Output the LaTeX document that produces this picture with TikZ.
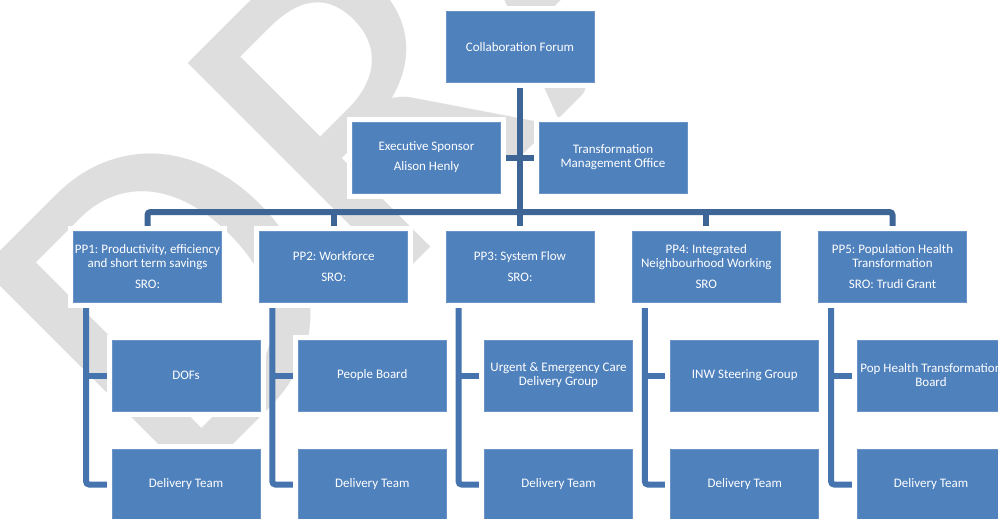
\documentclass[tikz,border=0pt]{standalone}
\usepackage{fontspec}
\setmainfont{Carlito}
\newfontfamily\wmfont{Carlito}
\frenchspacing
\definecolor{boxblue}{HTML}{4F81BD}
\definecolor{boxedge}{HTML}{6A94C8}
\definecolor{linedark}{HTML}{3D6596}
\definecolor{linelight}{HTML}{4674AE}
\definecolor{wmgray}{HTML}{DEDEDE}
\pgfdeclarelayer{wm}
\pgfdeclarelayer{bg}
\pgfsetlayers{wm,bg,main}
\tikzset{
  orgbox/.style={rectangle, fill=boxblue, draw=boxedge, line width=0.8pt,
    preaction={draw=white, line width=11pt},
    minimum width=148pt, minimum height=71pt, inner sep=0pt,
    text=white, align=center, font=\fontsize{13}{14}\selectfont},
  topline/.style={draw=linedark, line width=6pt},
  childline/.style={draw=linelight, line width=6pt, rounded corners=3pt},
}
\begin{document}
\begin{tikzpicture}[x=1pt, y=-1pt]
\useasboundingbox (0,0) rectangle (998,519);
% watermark
\begin{pgfonlayer}{wm}
\fill[white] (0,0) rectangle (998,519);
\node[anchor=base west, rotate=45, inner sep=0pt, text=wmgray,
  font=\wmfont\fontsize{470}{470}\selectfont] (wm) at (173,505) {DRAFT};
\end{pgfonlayer}
% boxes
\node[orgbox] (cf) at (520,47) {Collaboration Forum};
\node[orgbox] (es) at (426.5,157.5) {Executive Sponsor\\[6pt]Alison Henly};
\node[orgbox] (tmo) at (613,157.5) {Transformation\\Management Office};
\node[orgbox] (pp1) at (147.5,266.5) {PP1: Productivity, efficiency\\and short term savings\\[7pt]SRO:};
\node[orgbox] (pp2) at (333.75,266.5) {PP2: Workforce\\[7pt]SRO:};
\node[orgbox] (pp3) at (520,266.5) {PP3: System Flow\\[7pt]SRO:};
\node[orgbox] (pp4) at (706.25,266.5) {PP4: Integrated\\Neighbourhood Working\\[7pt]SRO};
\node[orgbox] (pp5) at (892.5,266.5) {PP5: Population Health\\Transformation\\[7pt]SRO: Trudi Grant};
\node[orgbox] (c11) at (186,375.5) {DOFs};
\node[orgbox] (c12) at (186,484.5) {Delivery Team};
\node[orgbox] (c21) at (372.25,375.5) {People Board};
\node[orgbox] (c22) at (372.25,484.5) {Delivery Team};
\node[orgbox] (c31) at (558.5,375.5) {Urgent \& Emergency Care\\Delivery Group};
\node[orgbox] (c32) at (558.5,484.5) {Delivery Team};
\node[orgbox] (c41) at (744.75,375.5) {INW Steering Group};
\node[orgbox] (c42) at (744.75,484.5) {Delivery Team};
\node[orgbox] (c51) at (931,375.5) {Pop Health Transformation\\Board};
\node[orgbox] (c52) at (931,484.5) {Delivery Team};
\coordinate (bar) at (520,212);
\foreach \i in {1,...,5} {
  \coordinate (v\i) at ([xshift=13pt]pp\i.south west);
}
% connectors
\begin{pgfonlayer}{bg}
\draw[topline] (cf.south) -- (pp3.north);
\draw[topline] (es.east) -- (tmo.west);
\draw[topline, rounded corners=3pt] (pp1.north) -- (pp1.north |- bar) -- (pp5.north |- bar) -- (pp5.north);
\draw[topline] (pp2.north |- bar) -- (pp2.north);
\draw[topline] (pp4.north |- bar) -- (pp4.north);
\foreach \i in {1,...,5} {
  \draw[childline] (v\i) -- (v\i |- c\i2.west) -- (c\i2.west);
  \draw[childline] (v\i |- c\i1.west) -- (c\i1.west);
}
\end{pgfonlayer}
\end{tikzpicture}
\end{document}
